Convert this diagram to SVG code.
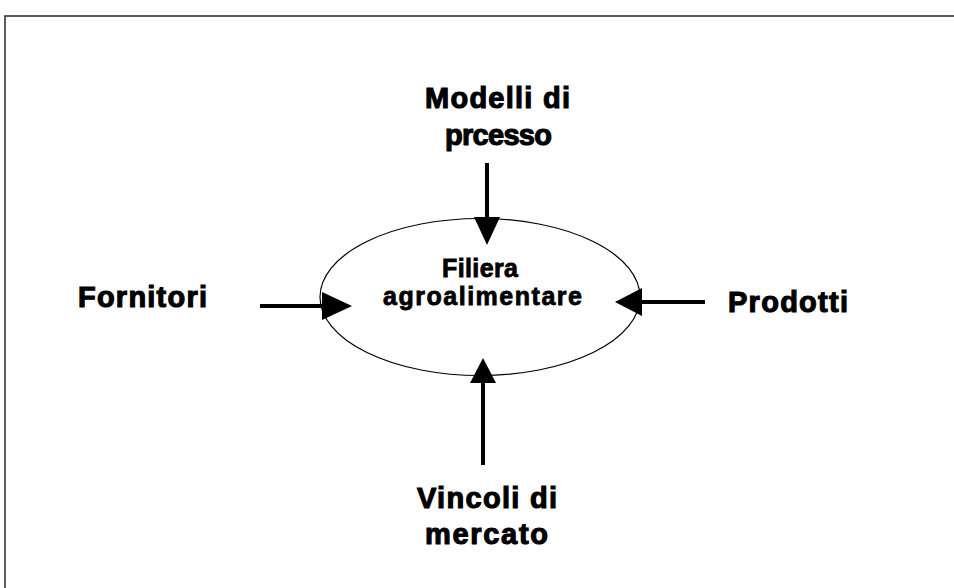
<svg xmlns="http://www.w3.org/2000/svg" width="954" height="588" viewBox="0 0 954 588">
<style>
.lbl{font-family:"Liberation Sans",Arial,sans-serif;font-weight:bold;font-size:29px;fill:#000;stroke:#000;stroke-width:1.1}
.inner{font-family:"Liberation Sans",Arial,sans-serif;font-weight:bold;font-size:25px;fill:#000;stroke:#000;stroke-width:0.8}
.shaft{stroke:#000;stroke-width:4;fill:none}
.head{fill:#000}
</style>
<rect x="0" y="0" width="954" height="588" fill="#fff"/>
<rect x="5" y="16" width="980" height="600" fill="none" stroke="#333" stroke-width="1.6"/>
<g id="node-filiera">
<ellipse cx="480" cy="297" rx="160" ry="78.5" fill="none" stroke="#000" stroke-width="1.2"/>
<text class="inner" x="442" y="277" textLength="76" lengthAdjust="spacing">Filiera</text>
<text class="inner" x="383" y="305" textLength="199" lengthAdjust="spacing">agroalimentare</text>
</g>
<g id="node-modelli">
<text class="lbl" x="425" y="108" textLength="145" lengthAdjust="spacing">Modelli di</text>
<text class="lbl" x="445" y="145" textLength="107" lengthAdjust="spacing">prcesso</text>
</g>
<g id="node-fornitori">
<text class="lbl" x="78" y="307" textLength="129" lengthAdjust="spacing">Fornitori</text>
</g>
<g id="node-prodotti">
<text class="lbl" x="728" y="312" textLength="120" lengthAdjust="spacing">Prodotti</text>
</g>
<g id="node-vincoli">
<text class="lbl" x="417" y="508" textLength="140" lengthAdjust="spacing">Vincoli di</text>
<text class="lbl" x="425" y="544" textLength="123" lengthAdjust="spacing">mercato</text>
</g>
<g id="connectors">
<line class="shaft" x1="487" y1="163" x2="487" y2="218"/>
<polygon class="head" points="474,217 500,217 487,245"/>
<line class="shaft" x1="260" y1="306" x2="323" y2="306"/>
<polygon class="head" points="322,292 322,320 352,306"/>
<line class="shaft" x1="705" y1="302" x2="641" y2="302"/>
<polygon class="head" points="642,288 642,316 615,302"/>
<line class="shaft" x1="483" y1="465" x2="483" y2="382"/>
<polygon class="head" points="470,383 496,383 483,358"/>
</g>
</svg>
